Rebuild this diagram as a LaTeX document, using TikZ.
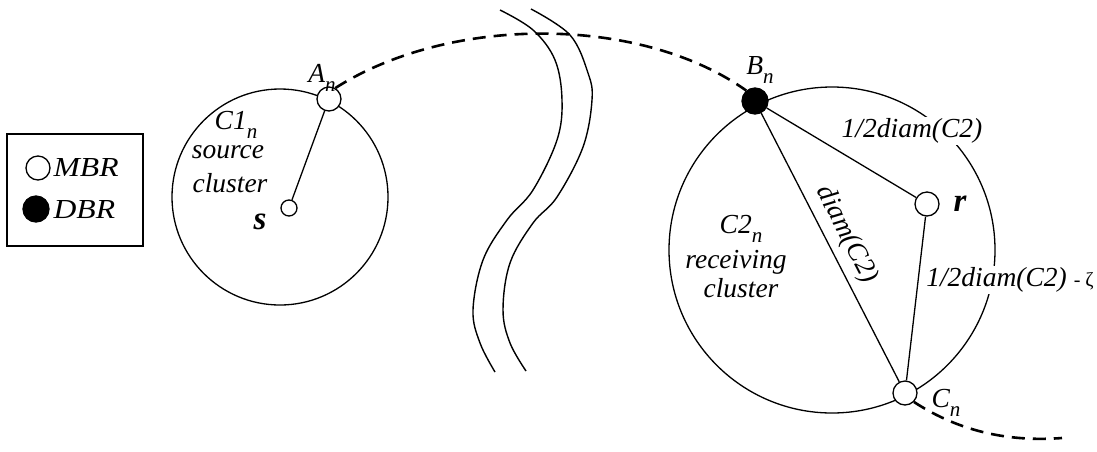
\documentclass[tikz,border=0pt]{standalone}
\usepackage{fontspec}
\setmainfont{Liberation Serif}
\newcommand\mysub[1]{\raisebox{-0.32em}{\fontsize{21}{21}\selectfont #1}}
\begin{document}
\begin{tikzpicture}[x=1pt,y=-1pt, line width=1.3pt,
  font=\fontsize{27.5}{29}\selectfont\itshape,
  mbr/.style={circle, draw, fill=white, minimum size=24pt, inner sep=0pt, line width=1.3pt},
  smallmbr/.style={circle, draw, fill=white, minimum size=16pt, inner sep=0pt, line width=1.3pt},
  dbr/.style={circle, draw, fill=black, minimum size=26pt, inner sep=0pt},
  lbl/.style={inner sep=0pt},
  whitelbl/.style={inner sep=2pt, fill=white},
  link/.style={line width=1.3pt},
  route/.style={dash pattern=on 13pt off 8pt, line width=2.6pt},
  wave/.style={line width=1.4pt}]
\useasboundingbox (0,0) rectangle (1097,451);

% legend
\node[draw, line width=1.5pt, minimum width=136pt, minimum height=112pt, inner sep=0pt] (legend) at (75,190) {};
\node[mbr] (lm) at (38,168) {};
\node[dbr] (ld) at (36,209) {};
\node[lbl, anchor=west] (lmt) at (53,168) {\scalebox{1.15}[1]{MBR}};
\node[lbl, anchor=west] (ldt) at (53,210) {\scalebox{1.15}[1]{DBR}};

% clusters
\draw[link] (280,197) circle[radius=108pt];
\draw[link] (832,250) circle[radius=163pt];

% waves
\draw[wave] plot[smooth, tension=0.6] coordinates {(500,10) (533,30) (555,60) (562,100) (557,140) (533,190) (507,220) (483,260) (473,310) (480,343) (495,372)};
\draw[wave] plot[smooth, tension=0.6] coordinates {(531,9) (570,35) (588,73) (592,100) (583,147) (557,197) (533,223) (510,263) (503,310) (510,343) (526,371)};

% nodes
\node[mbr] (A) at (329,99) {};
\node[smallmbr] (s) at (289,208) {};
\node[dbr] (B) at (755,101) {};
\node[mbr] (r) at (927,204) {};
\node[mbr] (C) at (905,393) {};
\coordinate (tail) at (1062,438);

% connectors
\draw[link] (A) -- (s);
\draw[link] (B) -- (r);
\draw[link] (r) -- (C);
\draw[link] (B) -- node[sloped, above, lbl, yshift=7pt, xshift=-4pt] {diam(C2)} (C);
\draw[route] (A.60) .. controls (450,15) and (640,15) .. (B.130);
\draw[route] (C.-45) .. controls (960,432) and (1010,442) .. (tail);

% labels
\node[lbl] (Al) at (322,78) {A\mysub{n}};
\node[lbl] (Bl) at (760,70) {B\mysub{n}};
\node[lbl] (Cl) at (946,403) {C\mysub{n}};
\node[lbl] (rl) at (960,204) {\fontsize{33}{33}\selectfont\bfseries r};
\node[lbl] (sl) at (260,222) {\fontsize{33}{33}\selectfont\bfseries s};
\node[lbl] (c1) at (236,125) {C1\mysub{n}};
\node[lbl] (c1a) at (228,152) {source};
\node[lbl] (c1b) at (230,183) {cluster};
\node[lbl] (c2) at (741,229) {C2\mysub{n}};
\node[lbl] (c2a) at (736,262) {receiving};
\node[lbl] (c2b) at (741,288) {cluster};
\node[whitelbl] (h1) at (912,131) {1/2diam(C2)};
\node[whitelbl] (h2) at (1010,280) {1/2diam(C2) {\upshape\fontsize{20}{20}\selectfont - ζ}};
\end{tikzpicture}
\end{document}
